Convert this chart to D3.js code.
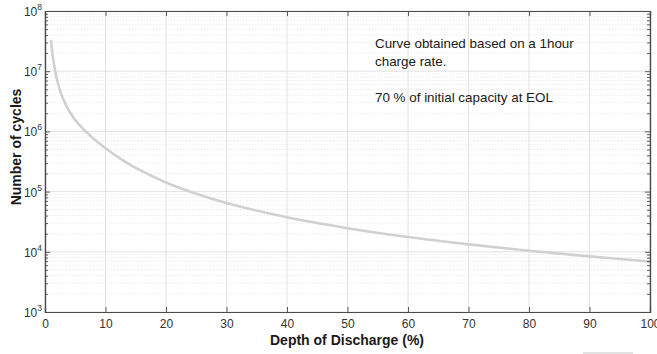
<!DOCTYPE html>
<html><head><meta charset="utf-8">
<script src="https://cdn.jsdelivr.net/npm/d3@7"></script>
<style>
html,body{margin:0;padding:0;background:#fff;}
svg{display:block;font-family:"Liberation Sans",Arial,Helvetica,sans-serif;}
</style></head>
<body>
<svg id="c" width="657" height="354"></svg>
<script>
// Data
const depthOfDischarge = [1, 1.3, 1.65, 2, 2.5, 3, 4, 5, 6.5, 8, 10, 12.5, 15, 20, 25, 30, 40, 50, 60, 70, 80, 90, 100];
const numberOfCycles = [3.16e7, 1.75e7, 1.05e7, 7.1e6, 4.7e6, 3.45e6, 2.18e6, 1.55e6, 1.05e6, 7.6e5, 5.25e5, 3.5e5, 2.48e5, 1.42e5, 9.2e4, 6.45e4, 3.74e4, 2.47e4, 1.76e4, 1.33e4, 1.04e4, 8.4e3, 6.9e3];
const xTicks = [0, 10, 20, 30, 40, 50, 60, 70, 80, 90, 100];
const yExponents = [3, 4, 5, 6, 7, 8];
const notes = ["Curve obtained based on a 1hour", "charge rate.", "", "70 % of initial capacity at EOL"];

const svg = d3.select("#c");
const m = {l: 45, r: 650, t: 11, b: 312};
const x = d3.scaleLinear().domain([0, 100]).range([m.l, m.r]);
const y = d3.scaleLog().domain([1e3, 1e8]).range([m.b, m.t]);

const axisCol = "#4a4a4a";
const g = svg.append("g");

// minor horizontal grid
const minor = [];
for (let e = 3; e < 8; e++) for (let k = 2; k <= 9; k++) minor.push(k * Math.pow(10, e));
g.selectAll(".hmin").data(minor).join("line")
  .attr("x1", m.l).attr("x2", m.r)
  .attr("y1", d => y(d)).attr("y2", d => y(d))
  .attr("stroke", "#e6e6e6").attr("stroke-width", 0.8).attr("stroke-dasharray", "1.5,1.5");
// major horizontal grid
g.selectAll(".hmaj").data(yExponents).join("line")
  .attr("x1", m.l).attr("x2", m.r)
  .attr("y1", d => y(Math.pow(10, d))).attr("y2", d => y(Math.pow(10, d)))
  .attr("stroke", "#e2e2e2").attr("stroke-width", 1);
// vertical grid
g.selectAll(".vmaj").data(xTicks).join("line")
  .attr("x1", d => x(d)).attr("x2", d => x(d))
  .attr("y1", m.t).attr("y2", m.b)
  .attr("stroke", "#e2e2e2").attr("stroke-width", 1);

// curve
const line = d3.line().x((d, i) => x(depthOfDischarge[i])).y(d => y(d)).curve(d3.curveCatmullRom.alpha(0.5));
svg.append("path").datum(numberOfCycles)
  .attr("d", line).attr("fill", "none")
  .attr("stroke", "#d0d0d0").attr("stroke-width", 2.6).attr("stroke-linecap", "round");

// axes (box with inward ticks)
const xb = svg.append("g").attr("transform", `translate(0,${m.b})`)
  .call(d3.axisBottom(x).tickValues(xTicks).tickSize(-5).tickPadding(7).tickFormat(d3.format("d")));
const xt = svg.append("g").attr("transform", `translate(0,${m.t})`)
  .call(d3.axisTop(x).tickValues(xTicks).tickSize(-5).tickFormat(""));
const yl = svg.append("g").attr("transform", `translate(${m.l},0)`)
  .call(d3.axisLeft(y).tickValues(yExponents.map(e => Math.pow(10, e))).tickSize(-5).tickFormat(""));
const yr = svg.append("g").attr("transform", `translate(${m.r},0)`)
  .call(d3.axisRight(y).tickValues(yExponents.map(e => Math.pow(10, e))).tickSize(-5).tickFormat(""));
const ylm = svg.append("g").attr("transform", `translate(${m.l},0)`)
  .call(d3.axisLeft(y).tickValues(minor).tickSize(-3).tickFormat(""));
const yrm = svg.append("g").attr("transform", `translate(${m.r},0)`)
  .call(d3.axisRight(y).tickValues(minor).tickSize(-3).tickFormat(""));
[xb, xt, yl, yr, ylm, yrm].forEach(a => {
  a.selectAll("path").attr("stroke", axisCol).attr("stroke-width", 1.2);
  a.selectAll("line").attr("stroke", axisCol).attr("stroke-width", 0.9);
});
xb.selectAll("text").attr("fill", "#333").attr("font-size", 12)
  .attr("font-family", "'Liberation Sans',Arial,sans-serif");

// y tick labels with superscripts
const yl2 = svg.append("g");
yExponents.forEach(e => {
  const t = yl2.append("text").attr("x", 42).attr("y", y(Math.pow(10, e)) + 5)
    .attr("text-anchor", "end").attr("fill", "#333").attr("font-size", 12);
  t.append("tspan").text("10");
  t.append("tspan").attr("font-size", 8.5).attr("dy", -6).text(e);
});

// axis titles
svg.append("text").attr("x", 347).attr("y", 345).attr("text-anchor", "middle")
  .attr("font-weight", "bold").attr("font-size", 14).attr("fill", "#1a1a1a")
  .text("Depth of Discharge (%)");
svg.append("text").attr("transform", "translate(21,147) rotate(-90)").attr("text-anchor", "middle")
  .attr("font-weight", "bold").attr("font-size", 14).attr("fill", "#1a1a1a")
  .text("Number of cycles");

// annotations
notes.forEach((s, i) => {
  if (!s) return;
  svg.append("text").attr("x", 375).attr("y", 48 + i * 18)
    .attr("font-size", 13.4).attr("fill", "#1a1a1a").text(s);
});

// faint artifact line bottom-right
svg.append("line").attr("x1", 583).attr("x2", 633).attr("y1", 353).attr("y2", 353)
  .attr("stroke", "#d8d8d8").attr("stroke-width", 1.5);
</script>
</body></html>
